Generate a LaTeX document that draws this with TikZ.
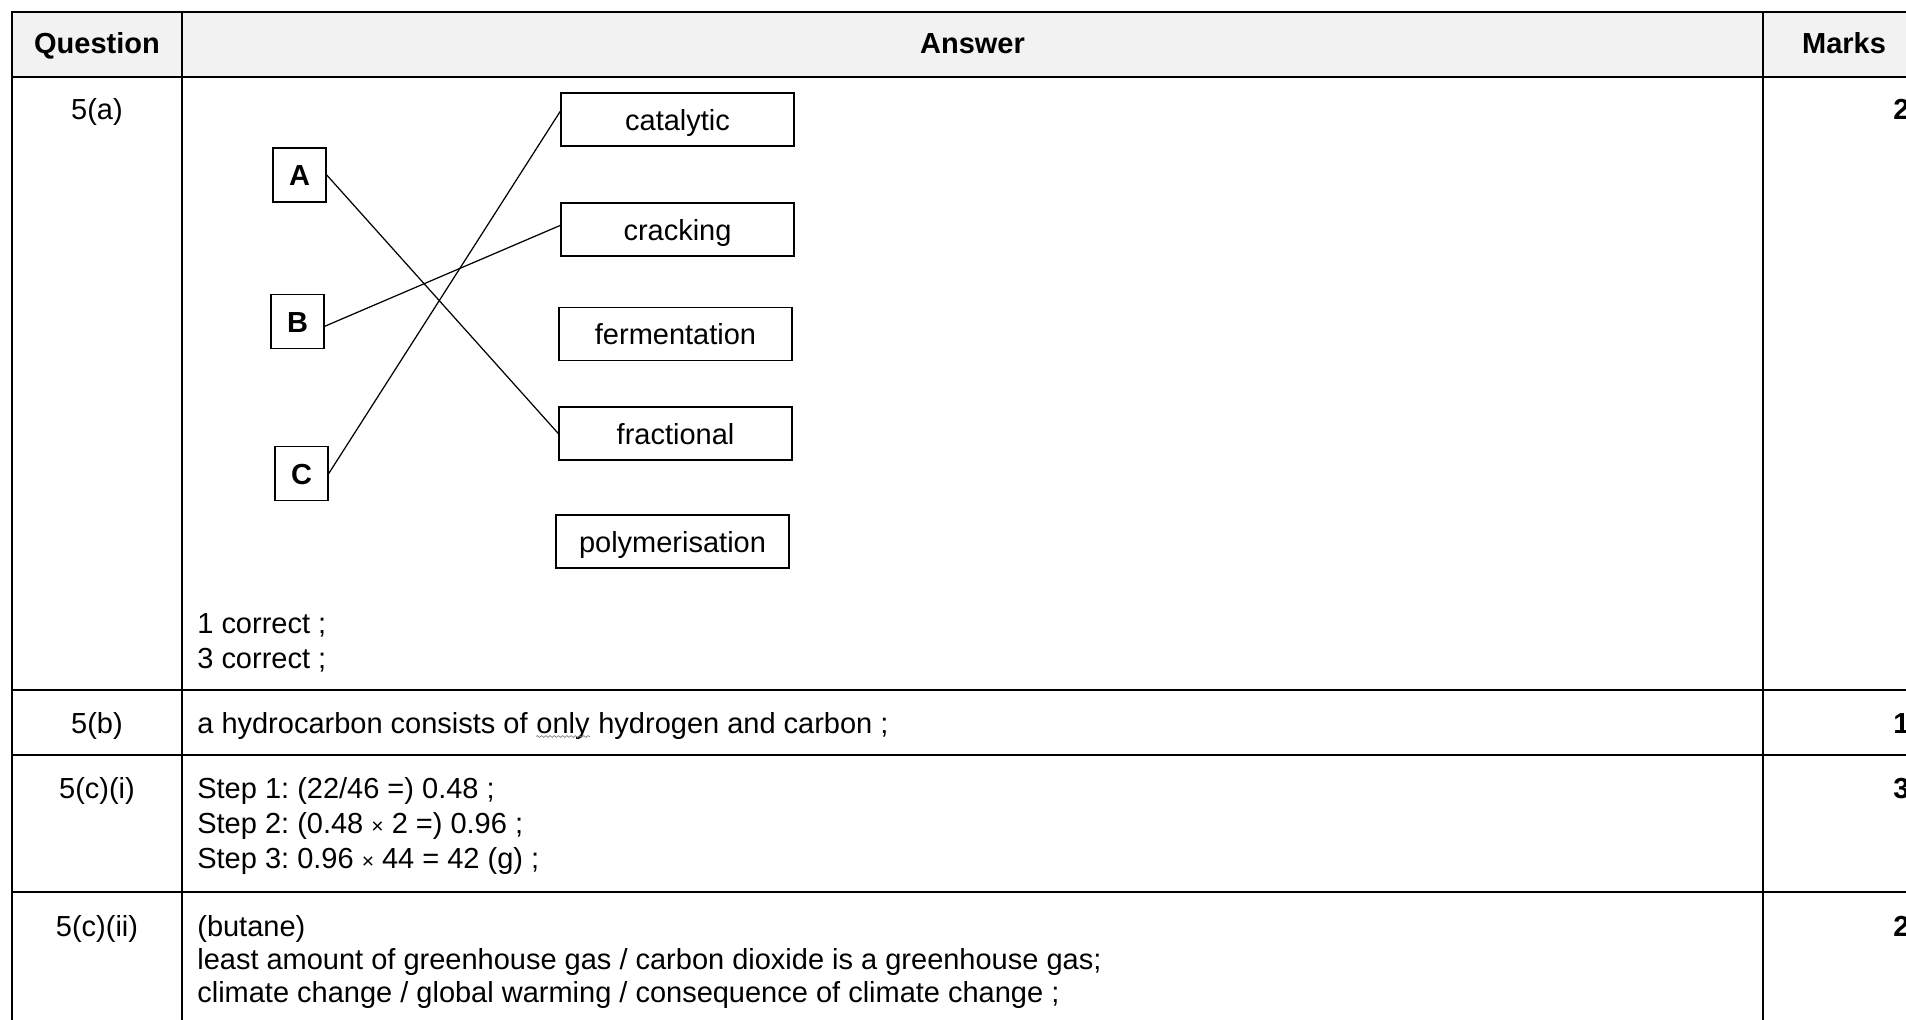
\documentclass[tikz,border=0pt]{standalone}
\usepackage{fontspec}
\setmainfont{Liberation Sans}
\usetikzlibrary{positioning,decorations.pathmorphing}
\frenchspacing
\newcommand{\tms}{{\fontsize{12}{14}\selectfont ×}}
\tikzset{
x=0.02cm, y=-0.02cm,
every node/.style={font=\fontsize{16.5}{20}\selectfont, inner sep=0pt},
rule/.style={line width=1.1pt},
link/.style={line width=0.7pt},
letter/.style={draw, line width=0.85pt, minimum width=1.06cm, minimum height=1.08cm,
  text height=0.44cm, text depth=0pt, font=\fontsize{16.5}{20}\selectfont\bfseries},
word/.style={draw, line width=0.85pt, minimum width=4.66cm, minimum height=1.06cm,
  text height=0.44cm, text depth=0pt},
head/.style={anchor=base, font=\fontsize{16.5}{20}\selectfont\bfseries},
qno/.style={anchor=base},
cell/.style={anchor=base west},
score/.style={anchor=base west, font=\fontsize{16.5}{20}\selectfont\bfseries},
squiggle/.style={gray, line width=0.4pt, decorate,
  decoration={snake, amplitude=0.5pt, segment length=2.4pt}},
}

\begin{document}
\begin{tikzpicture}

    \useasboundingbox (0,0) rectangle (1906,1020);
    \clip (0,0) rectangle (1906,1020);

    % table
    \fill[black!5] (12,12) rectangle (1906,77);
    \draw[rule] (1906,12) -- (12,12) -- (12,1020);
    \foreach \y in {77,690,755,892} \draw[rule] (12,\y) -- (1906,\y);
    \foreach \x in {182,1763} \draw[rule] (\x,12) -- (\x,1020);

    \node[head] (hq) at (97,54) {Question};
    \node[head] (ha) at (972.5,54) {Answer};
    \node[head] (hm) at (1844,54) {Marks};

    \node[qno] (q5a) at (97,120) {5(a)};
    \node[qno] (q5b) at (97,733) {5(b)};
    \node[qno] (q5ci) at (97,798) {5(c)(i)};
    \node[qno] (q5cii) at (97,936) {5(c)(ii)};

    \node[score] (m5a) at (1893,120) {2};
    \node[score] (m5b) at (1893,733) {1};
    \node[score] (m5ci) at (1893,798) {3};
    \node[score] (m5cii) at (1893,936) {2};

    % matching
    \node[letter] (A) at (299.5,175) {A};
    \node[letter] (B) at (297.5,321.5) {B};
    \node[letter] (C) at (301.5,473.5) {C};

    \node[word] (catalytic) at (677.5,119.5) {catalytic};
    \node[word] (cracking) at (677.5,229.5) {cracking};
    \node[word] (fermentation) at (675.5,334) {fermentation};
    \node[word] (fractional) at (675.5,433.5) {fractional};
    \node[word] (polymerisation) at (672.5,541.5) {polymerisation};

    \draw[link] (A.east) edge (fractional.west);
    \draw[link] (B.-10) edge (cracking.178);
    \draw[link] (C.east) edge (catalytic.176);

    \node[cell] (ok1) at (197,633) {1 correct ;};
    \node[cell] (ok3) at (197,668) {3 correct ;};

    % 5(b)
    \node[cell] (hc) at (197,733) {a hydrocarbon consists of};
    \node[cell, xshift=0.161cm] (only) at (hc.base east) {only};
    \node[cell, xshift=0.161cm] (hc2) at (only.base east) {hydrogen and carbon ;};
    \draw[squiggle] ([yshift=-0.07cm]only.base west) -- ([yshift=-0.07cm]only.base east);

    % 5(c)
    \node[cell] (s1) at (197,798) {Step 1: (22/46 =) 0.48 ;};
    \node[cell] (s2) at (197,833) {Step 2: (0.48 \tms{} 2 =) 0.96 ;};
    \node[cell] (s3) at (197,868) {Step 3: 0.96 \tms{} 44 = 42 (g) ;};

    \node[cell] (ii1) at (197,936) {(butane)};
    \node[cell] (ii2) at (197,969) {least amount of greenhouse gas / carbon dioxide is a greenhouse gas;};
    \node[cell] (ii3) at (197,1002) {climate change / global warming / consequence of climate change ;};

\end{tikzpicture}
\end{document}
